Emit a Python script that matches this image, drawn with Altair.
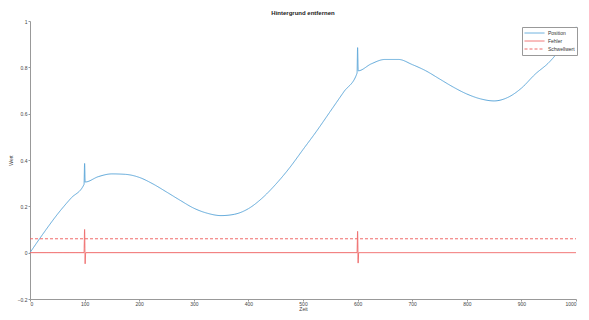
import altair as alt
import pandas as pd

# Position (blue)
pos_x = [0, 25, 50, 75, 99, 100, 101, 125, 150, 175, 200, 225, 250, 275, 300, 325, 350, 375, 400,
         425, 450, 475, 500, 525, 550, 575, 599, 600, 601, 625, 650, 675, 700, 725, 750, 775, 800,
         825, 850, 875, 900, 925, 950, 975, 1000]
pos_y = [0.0, 0.085, 0.165, 0.235, 0.295, 0.385, 0.305, 0.328, 0.34, 0.338, 0.325, 0.297, 0.262,
         0.226, 0.192, 0.17, 0.16, 0.166, 0.19, 0.235, 0.295, 0.365, 0.445, 0.525, 0.61, 0.695,
         0.775, 0.885, 0.785, 0.815, 0.834, 0.834, 0.812, 0.785, 0.75, 0.715, 0.685, 0.664, 0.655,
         0.67, 0.71, 0.77, 0.82, 0.89, 0.975]

# Fehler (red solid)
err_x = [0, 99, 100, 101, 102, 599, 600, 601, 602, 1000]
err_y = [0.0, 0.0, 0.10, -0.048, 0.0, 0.0, 0.092, -0.045, 0.0, 0.0]

# Schwellwert (red dashed)
thr_x = [0, 1000]
thr_y = [0.06, 0.06]

series_names = ["Position", "Fehler", "Schwellwert"]

rows = []
for n, xs, ys in [("Position", pos_x, pos_y), ("Fehler", err_x, err_y), ("Schwellwert", thr_x, thr_y)]:
    for i, (a, b) in enumerate(zip(xs, ys)):
        rows.append({"series": n, "t": a, "v": b, "i": i})
df = pd.DataFrame(rows)

y_ticks = [-0.2, 0, 0.2, 0.4, 0.6, 0.8, 1]
x_ticks = list(range(0, 1001, 100))

font = "Liberation Sans"

leg = alt.Legend(title=None, orient="none", legendX=492, legendY=6,
                 symbolType="stroke", symbolSize=400, symbolStrokeWidth=1,
                 labelFontSize=5, labelColor="#333", rowPadding=0,
                 clipHeight=8, padding=2, strokeColor="#999",
                 fillColor="white", labelOffset=3, symbolOffset=0)

chart = alt.Chart(df).mark_line(strokeWidth=1.0, interpolate="monotone").encode(
    x=alt.X("t:Q", scale=alt.Scale(domain=[0, 1000], nice=False),
            axis=alt.Axis(values=x_ticks, format="d", title="Zeit", grid=False, tickSize=2,
                          labelPadding=0, titlePadding=0, labelFontSize=5, titleFontSize=5,
                          titleFontWeight="normal", domainColor="#999", tickColor="#999",
                          labelColor="#444", titleColor="#444")),
    y=alt.Y("v:Q", scale=alt.Scale(domain=[-0.2, 1], nice=False, zero=False),
            axis=alt.Axis(values=y_ticks, format="~g", title="Wert", grid=False, tickSize=2,
                          labelPadding=1, titlePadding=4, labelFontSize=5, titleFontSize=5,
                          titleFontWeight="normal", domainColor="#999", tickColor="#999",
                          labelColor="#444", titleColor="#444")),
    color=alt.Color("series:N", scale=alt.Scale(domain=series_names,
                                                range=["#5ea8da", "#f06a6a", "#f06a6a"]),
                    legend=leg),
    strokeDash=alt.StrokeDash("series:N", scale=alt.Scale(domain=series_names,
                                                          range=[[1, 0], [1, 0], [3, 2]]),
                              legend=leg),
    detail="series:N",
    order="i:Q",
).properties(
    width=546,
    height=278,
    title=alt.TitleParams("Hintergrund entfernen", fontSize=6, fontWeight="bold", offset=3,
                          color="#222"),
    autosize=alt.AutoSizeParams(type="none"),
    padding={"left": 22, "top": 13, "right": 5, "bottom": 13},
).configure(font=font).configure_view(stroke=None)

chart.save("out.html", embed_options={"renderer": "svg", "actions": False})
